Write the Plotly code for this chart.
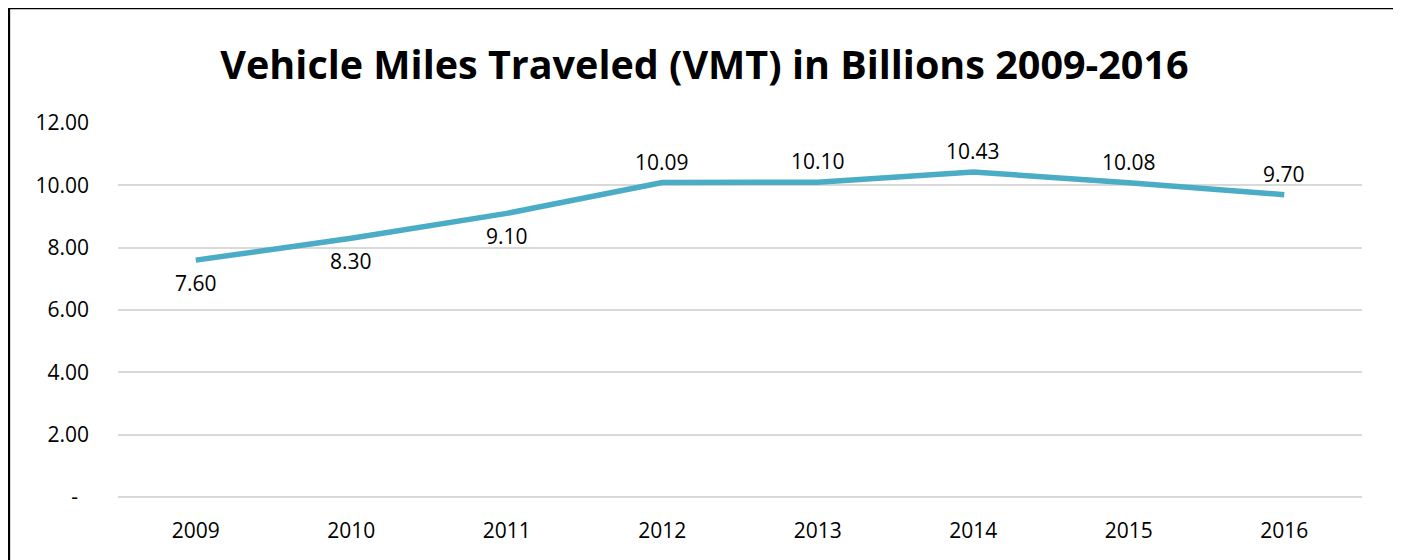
import plotly.graph_objects as go

# ======= VMT in billions, 2009-2016 ============
years = ["2009", "2010", "2011", "2012", "2013", "2014", "2015", "2016"]
vmt = [7.60, 8.30, 9.10, 10.09, 10.10, 10.43, 10.08, 9.70]
label_below = [True, True, True, False, False, False, False, False]

y_ticks = [0, 2, 4, 6, 8, 10, 12]
y_ticktext = ["-\u00a0\u00a0", "2.00", "4.00", "6.00", "8.00", "10.00", "12.00"]

FONT = "Open Sans"

fig = go.Figure()
fig.add_trace(go.Scatter(
    x=years,
    y=vmt,
    mode="lines",
    line=dict(color="#4BACC6", width=5.5),
    hoverinfo="x+y",
))

# data labels, pushed a bit off the line like Excel does
# (x by category index: "2009" on a category axis would be read as a number)
for i, (v, below) in enumerate(zip(vmt, label_below)):
    fig.add_annotation(
        x=i, y=v, text=f"{v:.2f}", showarrow=False,
        yshift=-23 if below else 21,
        font=dict(family=FONT, size=21, color="#000000"),
    )

# outer border like the Excel chart frame
fig.add_shape(type="rect", xref="paper", yref="paper",
              x0=-0.0877, x1=1.0265, y0=-0.3, y1=1.3075,
              line=dict(color="#000000", width=2.5), fillcolor="rgba(0,0,0,0)")

# page body has an 8px margin, so the figure is a bit smaller than the window
fig.update_layout(
    width=1393,
    height=552,
    margin=dict(l=110, r=39, t=115, b=63),
    paper_bgcolor="white",
    plot_bgcolor="white",
    showlegend=False,
    title=dict(
        text="<b>Vehicle Miles Traveled (VMT) in Billions 2009-2016</b>",
        x=0.5, xref="container", y=0.897, yanchor="middle",
        font=dict(family=FONT, size=39.5, color="#000000"),
    ),
    xaxis=dict(
        type="category",
        range=[-0.5, 7.5],
        showgrid=False, zeroline=False, showline=False, ticks="",
        ticklabelstandoff=19,
        tickfont=dict(family=FONT, size=21, color="#000000"),
    ),
    yaxis=dict(
        range=[0, 12],
        tickvals=y_ticks, ticktext=y_ticktext,
        showgrid=True, gridcolor="#D9D9D9", gridwidth=1.5,
        zeroline=True, zerolinecolor="#D9D9D9", zerolinewidth=1.5,
        showline=False, ticks="",
        ticklabelstandoff=28,
        tickfont=dict(family=FONT, size=21, color="#000000"),
    ),
)

fig.write_html("out.html")
